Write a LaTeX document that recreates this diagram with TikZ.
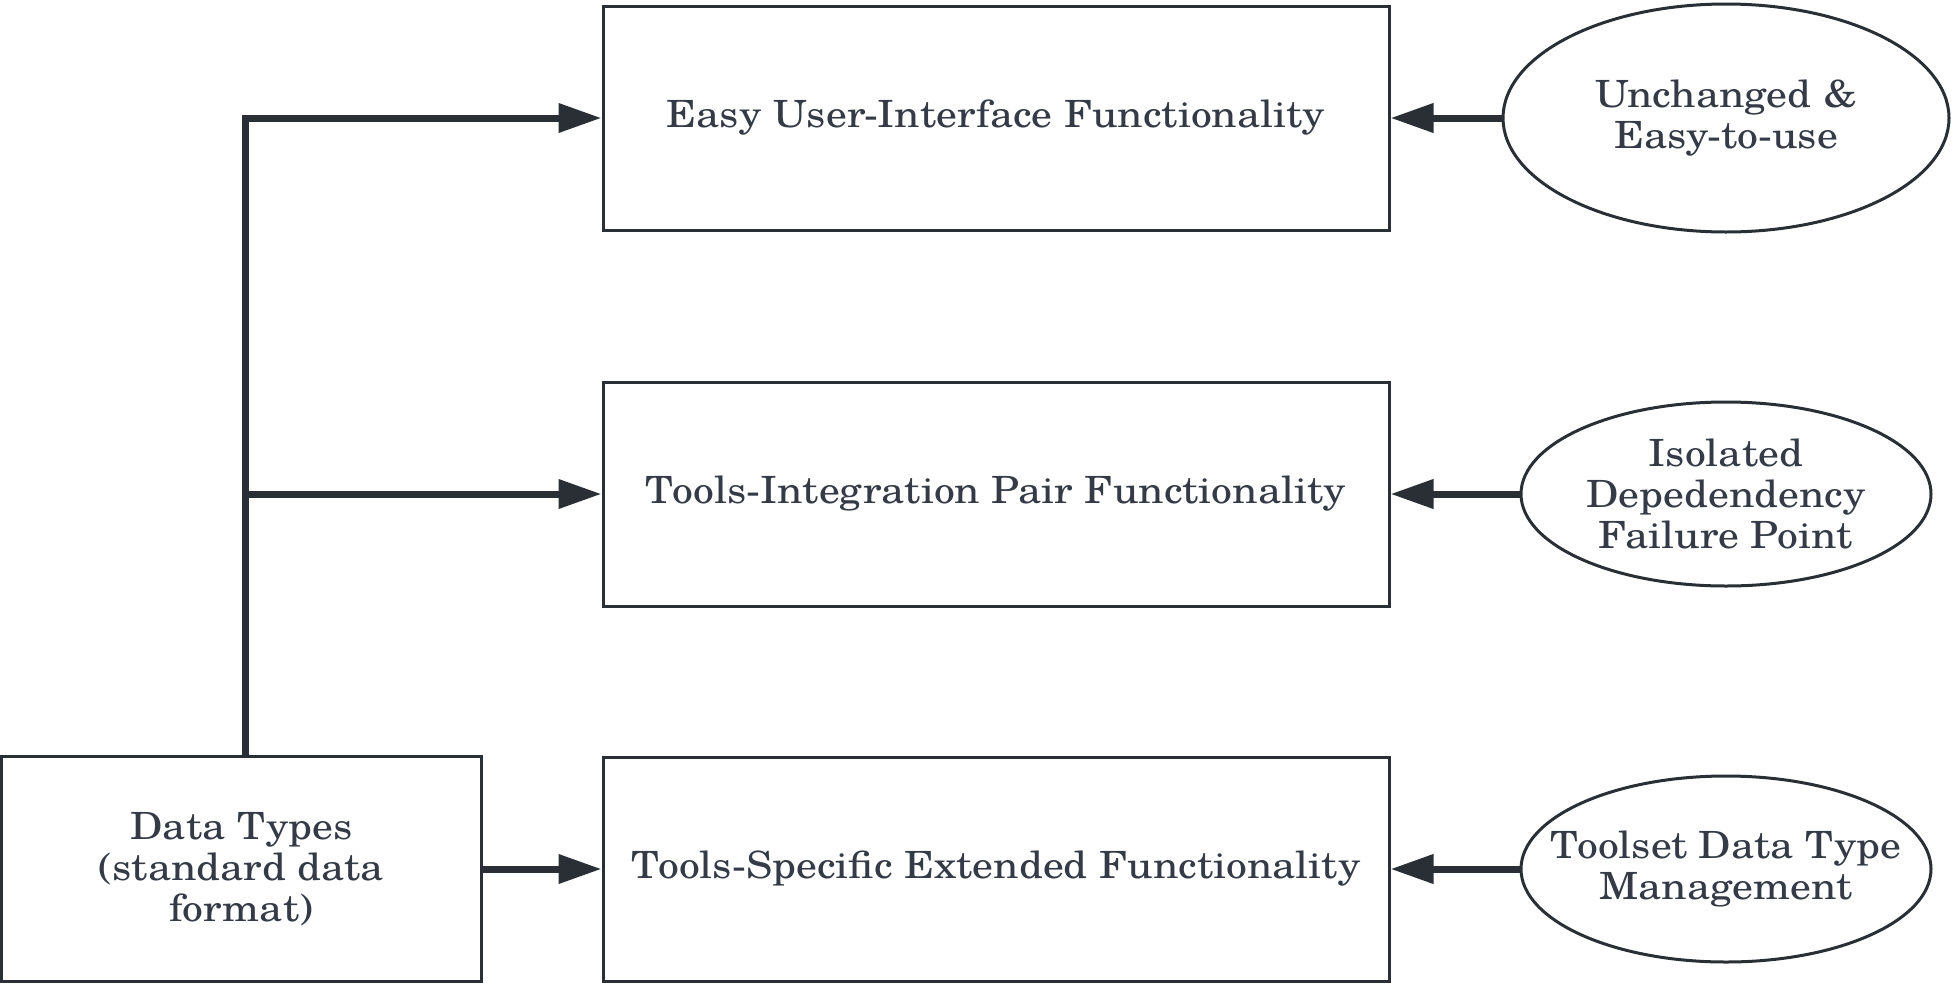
\documentclass[tikz,border=0pt]{standalone}
\usepackage{fontspec}
\setmainfont[FakeStretch=1.11]{TeX Gyre Schola}
\usetikzlibrary{arrows.meta,shapes.geometric}
\definecolor{ink}{HTML}{2A2E35}
\definecolor{txt}{HTML}{343B47}
\begin{document}
\begin{tikzpicture}[x=1pt,y=-1pt,
  every node/.style={font=\fontsize{37.5}{41}\selectfont, text=txt, align=center},
  box/.style={draw=ink, line width=3pt, rectangle, inner sep=0pt, minimum width=786pt, minimum height=224pt},
  srcbox/.style={draw=ink, line width=3pt, rectangle, inner sep=0pt, minimum width=480pt, minimum height=225pt},
  oval/.style={draw=ink, line width=3pt, ellipse, inner sep=0pt},
  conn/.style={draw=ink, line width=7pt, -{Triangle[length=43pt,width=28pt]}}]
\useasboundingbox (0,0) rectangle (1954,983);
\node[box] (ui) at (996,118) {Easy User-Interface Functionality};
\node[box] (ti) at (996,494) {Tools-Integration Pair Functionality};
\node[box] (ts) at (996,869) {Tools-Specific Extended Functionality};
\node[srcbox] (dt) at (241.5,869) {Data Types\\(standard data\\format)};
\node[oval, minimum width=446pt, minimum height=228pt] (e1) at (1726,118) {};
\node[oval, minimum width=410pt, minimum height=184pt] (e2) at (1726,494) {};
\node[oval, minimum width=410pt, minimum height=186pt] (e3) at (1726,869) {};
\node (t1) at (e1.center) {Unchanged \&\\Easy-to-use};
\node (t2) at (e2.center) {Isolated\\Depedendency\\Failure Point};
\node (t3) at (e3.center) {Toolset Data Type\\Management};
\coordinate (trunk) at (245,0);
\draw[conn] (dt.north -| trunk) -- (ui.west -| trunk) -- (ui.west);
\draw[conn] (ti.west -| trunk) -- (ti.west);
\draw[conn] (dt.east) -- (ts.west);
\draw[conn] (e1.west) -- (ui.east);
\draw[conn] (e2.west) -- (ti.east);
\draw[conn] (e3.west) -- (ts.east);
\end{tikzpicture}
\end{document}
